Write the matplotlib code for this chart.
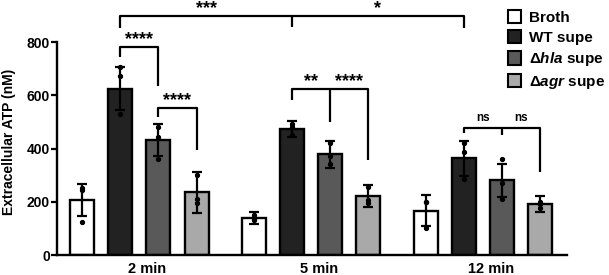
import matplotlib
matplotlib.use("Agg")
import matplotlib.pyplot as plt
from matplotlib.patches import Patch
import numpy as np

plt.rcParams['font.family'] = ['Liberation Sans', 'DejaVu Sans']
plt.rcParams['font.weight'] = 'bold'
plt.rcParams['mathtext.fontset'] = 'custom'
plt.rcParams['mathtext.it'] = 'Liberation Sans:italic:bold'
plt.rcParams['mathtext.rm'] = 'Liberation Sans:bold'

# ---- data ----
timepoints = ["2 min", "5 min", "12 min"]
series = ["Broth", "WT supe", "Δ$\\mathit{hla}$ supe", "Δ$\\mathit{agr}$ supe"]
colors = ["#ffffff", "#222222", "#595959", "#a9a9a9"]

means_broth = [207, 140, 167]
means_wt = [625, 473, 363]
means_hla = [432, 378, 280]
means_agr = [235, 222, 190]

sd_broth = [60, 23, 57]
sd_wt = [82, 30, 65]
sd_hla = [60, 50, 62]
sd_agr = [78, 40, 30]

pts_broth = [[245, 252, 124], [150, 135, 132], [200, 198, 100]]
pts_wt = [[705, 672, 530], [492, 480, 452], [420, 386, 284]]
pts_hla = [[482, 445, 362], [420, 372, 340], [362, 270, 210]]
pts_agr = [[300, 212, 195], [255, 208, 195], [200, 193, 176]]

means = [means_broth, means_wt, means_hla, means_agr]
sds = [sd_broth, sd_wt, sd_hla, sd_agr]
pts = [pts_broth, pts_wt, pts_hla, pts_agr]

fig = plt.figure(figsize=(6.09, 2.75), dpi=100)
ax = fig.add_axes([0.0936, 0.0727, 0.8374, 0.7745])

group_step = 4.5
width = 0.63

def xpos(g, i):
    return g * group_step + i

for i in range(4):
    xs = [xpos(g, i) for g in range(3)]
    ax.bar(xs, means[i], width=width, color=colors[i], edgecolor='black',
           linewidth=1.7, zorder=2)
    ax.errorbar(xs, means[i], yerr=sds[i], fmt='none', ecolor='black',
                elinewidth=1.6, capsize=3.6, capthick=1.6, zorder=3)
    for g in range(3):
        ax.plot([xs[g]] * len(pts[i][g]), pts[i][g], 'o', color='black',
                markersize=2.8, zorder=4)

ax.set_xlim(-0.654, 12.70)
ax.set_ylim(0, 800)
ax.set_yticks([0, 200, 400, 600, 800])
ax.set_yticklabels(["0", "200", "400", "600", "800"], fontsize=10, fontweight='bold')
ax.set_xticks([g * group_step + 1.5 + 0.2 for g in range(3)])
ax.set_xticklabels(timepoints, fontsize=10.5, fontweight='bold')
ax.tick_params(axis='x', length=0, pad=5)
ax.tick_params(axis='y', length=4, width=1.6, pad=1)
for s in ['top', 'right']:
    ax.spines[s].set_visible(False)
for s in ['left', 'bottom']:
    ax.spines[s].set_linewidth(1.7)
ax.set_ylabel("Extracellular ATP (nM)", fontsize=10, fontweight='bold')
ax.yaxis.set_label_coords(-0.080, 0.533)

lw = 1.6
def line(xs, ys):
    ax.plot(xs, ys, color='black', linewidth=lw, clip_on=False, zorder=5,
            solid_capstyle='butt')

def star(x, y, txt, size=13):
    ax.text(x, y, txt, ha='center', va='bottom', fontsize=size,
            fontweight='bold', clip_on=False)

# top bracket WT2 - WT5 - WT12
xa, xb, xc = xpos(0, 1), xpos(1, 1), xpos(2, 1)
line([xa, xa, xc, xc], [853, 899, 899, 853])
line([xb, xb], [899, 858])
star((xa + xb) / 2, 895, "***")
star((xb + xc) / 2, 895, "*")

# WT2 vs hla2
xa, xb = xpos(0, 1), xpos(0, 2)
line([xa, xa, xb, xb], [744, 782, 782, 635])
star((xa + xb) / 2, 778, "****")

# hla2 vs agr2
xa, xb = xpos(0, 2), xpos(0, 3)
line([xa, xa, xb, xb], [518, 553, 553, 394])
star((xa + xb) / 2, 549, "****")

# 5 min
xa, xb, xc = xpos(1, 1), xpos(1, 2), xpos(1, 3)
line([xa, xa, xc, xc], [582, 622, 622, 357])
line([xb, xb], [622, 500])
star((xa + xb) / 2, 618, "**")
star((xb + xc) / 2, 618, "****")

# 12 min
xa, xb, xc = xpos(2, 1), xpos(2, 2), xpos(2, 3)
line([xa, xa, xc, xc], [458, 476, 476, 312])
line([xb, xb], [476, 451])
ax.text((xa + xb) / 2, 492, "ns", ha='center', va='bottom', fontsize=8.5, fontweight='bold')
ax.text((xb + xc) / 2, 492, "ns", ha='center', va='bottom', fontsize=8.5, fontweight='bold')

handles = [Patch(facecolor=c, edgecolor='black', linewidth=1.5) for c in colors]
leg = fig.legend(handles, series, loc='upper left', bbox_to_anchor=(0.818, 1.0),
                 frameon=False, fontsize=11, handlelength=0.85, handleheight=0.95,
                 handletextpad=0.55, labelspacing=0.35, borderaxespad=0.25)
for t in leg.get_texts():
    t.set_fontweight('bold')

fig.savefig("out.png", dpi=100)
